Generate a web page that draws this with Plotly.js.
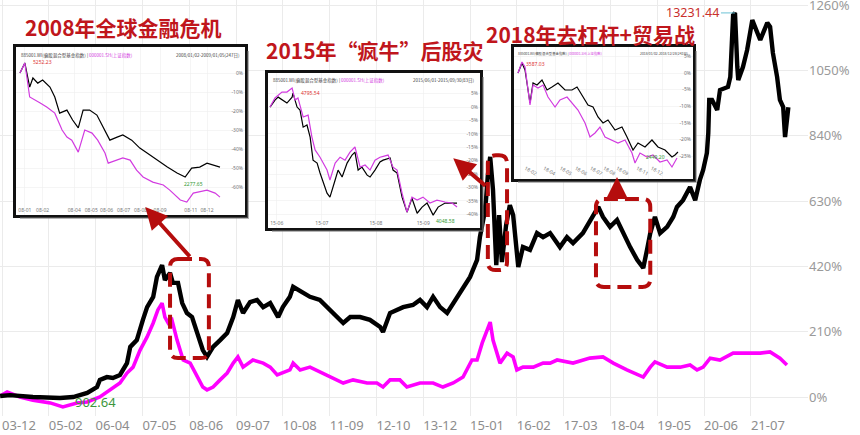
<!DOCTYPE html>
<html><head><meta charset="utf-8">
<script src="https://cdn.plot.ly/plotly-3.0.1.min.js"></script>
<style>html,body{margin:0;padding:0;background:#fff}#c{width:860px;height:435px}</style>
</head><body><div id="c"></div>
<script>
// ---------- main chart data (x = period index between tick labels, y = % change) ----------
const xTickLabels = ['03-12','05-02','06-04','07-05','08-06','09-07','10-08','11-09','12-10','13-12','15-01','16-02','17-03','18-04','19-05','20-06','21-07'];
const yTickVals = [0,210,420,630,840,1050,1260];

// 偏股混合型基金指数 (black)
const fundX = [-0.04,0.17,0.66,1.24,1.52,1.82,2.03,2.09,2.24,2.37,2.52,2.67,2.74,2.88,3.01,3.10,3.23,3.31,3.42,3.48,3.59,3.65,3.76,3.85,3.95,4.06,4.17,4.29,4.38,4.51,4.66,4.81,4.94,5.04,5.15,5.30,5.45,5.58,5.73,5.90,6.00,6.15,6.22,6.43,6.58,6.79,7.01,7.29,7.44,7.65,7.86,8.08,8.14,8.29,8.57,8.78,8.93,9.08,9.21,9.36,9.51,9.64,9.83,10.00,10.15,10.21,10.30,10.34,10.38,10.43,10.49,10.56,10.62,10.68,10.77,10.85,10.92,11.03,11.13,11.28,11.43,11.56,11.71,11.92,12.07,12.20,12.41,12.63,12.74,12.84,12.99,13.14,13.27,13.42,13.57,13.70,13.78,13.85,13.95,14.06,14.21,14.34,14.42,14.55,14.70,14.81,14.91,14.98,15.06,15.09,15.11,15.17,15.28,15.34,15.51,15.56,15.62,15.66,15.71,15.73,15.83,15.92,16.03,16.09,16.20,16.35,16.41,16.47,16.56,16.62,16.69,16.73,16.80];
const fundY = [3,6,0,-3,0,13,32,55,64,61,71,109,161,183,248,289,322,386,424,376,399,367,367,302,270,257,206,151,129,161,183,206,257,312,270,305,312,289,302,257,289,322,354,334,322,312,280,238,257,257,248,225,209,270,289,296,312,289,322,289,270,302,344,386,441,514,585,633,714,772,666,424,585,434,553,617,585,418,482,473,527,514,527,482,514,495,527,579,611,579,547,569,527,482,441,415,473,527,579,527,547,579,611,633,675,633,698,730,785,849,955,955,923,987,997,1029,1228,1235,1061,1019,1061,1116,1212,1190,1148,1203,1190,1106,1029,955,932,836,932];

// 上证指数 (magenta)
const shX = [-0.04,0.11,0.38,0.66,1.03,1.30,1.60,1.82,2.09,2.31,2.52,2.67,2.80,2.95,3.10,3.23,3.33,3.42,3.48,3.55,3.63,3.74,3.87,4.02,4.17,4.29,4.38,4.51,4.66,4.81,4.94,5.04,5.15,5.36,5.58,5.73,5.88,6.00,6.15,6.22,6.37,6.58,6.86,7.16,7.29,7.50,7.80,8.01,8.14,8.29,8.50,8.65,8.93,9.21,9.42,9.64,9.85,10.04,10.15,10.26,10.36,10.43,10.49,10.64,10.79,10.92,11.00,11.13,11.35,11.56,11.71,11.86,12.20,12.56,12.84,13.06,13.35,13.70,13.85,13.95,14.21,14.49,14.70,14.85,14.98,15.13,15.34,15.62,15.92,16.20,16.41,16.62,16.77];
const shY = [3,16,0,-10,-19,-32,-19,-16,0,23,45,77,96,151,193,238,280,302,257,238,248,183,119,109,64,32,23,32,55,77,109,129,96,119,109,96,71,77,87,109,87,96,77,55,45,55,45,45,32,55,55,32,45,45,32,45,64,119,119,174,215,241,183,109,141,129,87,96,96,109,109,119,109,125,129,109,87,64,96,113,96,96,103,87,96,125,119,141,141,141,145,125,103];

// ---------- inset 1: 2008 (day index, % change) ----------
const in1Labels = ['08-01','08-02','08-04','08-05','08-06','08-07','08-08','08-09','08-11','08-12','09-01'];
const in1LabelDays = [6,28,67,88,107,128,149,173,211,231,262];
const in1Pct = [0,-10,-20,-30,-40,-50,-60];
const in1FundX = [0,6,12,16,22,28,37,43,49,58,65,72,78,86,95,103,111,120,127,138,148,157,169,182,194,204,212,222,231,238,247];
const in1FundY = [0,5.3,-7.4,-2.6,-5.3,-3.7,-7.4,-12.6,-21.1,-19.5,-24.7,-28.9,-19.5,-19.5,-22.1,-28.4,-35.3,-33.7,-32.6,-35.3,-39.5,-42.1,-45.8,-49.5,-52.6,-54.7,-50.0,-49.5,-47.4,-48.4,-49.5];
const in1ShX = [0,6,12,19,25,33,43,52,58,64,72,80,89,96,105,109,120,127,136,144,152,164,177,185,198,206,214,222,231,241,247];
const in1ShY = [0,5.3,-12.6,-14.2,-15.8,-17.9,-21.1,-30.0,-33.7,-35.3,-41.6,-30.0,-31.6,-35.3,-42.1,-47.4,-45.8,-44.7,-45.8,-51.1,-54.7,-57.4,-58.9,-61.6,-66.8,-67.9,-63.2,-62.6,-61.6,-63.2,-65.3];

// ---------- inset 2: 2015 ----------
const in2Labels = ['15-06','15-07','15-08','15-09'];
const in2LabelDays = [3,23,47,68];
const in2Pct = [5,0,-5,-10,-15,-20,-25,-30,-35,-40];
const in2FundX = [0,2.2,3.6,5.8,7.5,9.8,10.2,12.0,13.3,14.7,16.4,17.8,19.1,20.9,22.2,25.3,26.6,28.9,30.2,32.0,34.2,36.4,37.7,39.1,40.8,43.1,44.4,46.6,48.8,50.2,53.3,54.6,56.4,58.6,60.8,63.0,65.3,67.5,69.7,72.4,74.6,77.7,80.8,83.0];
const in2FundY = [0,2.6,3.7,2.6,1.5,3.7,5.2,0,-1.1,-7.5,-6.7,-11.2,-19.8,-20.9,-24.6,-32.1,-33.6,-27.2,-23.5,-26.1,-20.9,-17.9,-16.8,-23.5,-22.4,-25.4,-26.1,-23.5,-20.5,-19.8,-19.0,-23.5,-24.6,-33.6,-39.2,-34.0,-39.6,-37.3,-35.8,-40.3,-37.3,-35.8,-35.8,-35.8];
const in2ShX = [0,2.2,5.3,7.5,9.8,11.1,12.4,14.7,16.9,18.6,20.0,22.2,25.3,26.6,28.9,31.1,33.3,35.5,37.7,40.0,42.2,44.4,46.6,48.8,52.4,54.6,56.4,58.6,60.8,63.0,65.3,67.9,71.0,74.1,77.7,80.8,83.0];
const in2ShY = [0,3.4,5.6,5.6,7.1,2.6,3.4,-3.7,-3.0,-11.2,-16.0,-18.7,-23.5,-27.2,-20.9,-18.7,-19.8,-16.8,-14.9,-22.4,-21.6,-23.5,-19.8,-18.7,-17.9,-22.4,-23.5,-32.1,-39.2,-33.6,-34.7,-33.6,-35.8,-34.7,-35.4,-35.8,-37.3];

// ---------- inset 3: 2018 ----------
const in3Labels = ['18-01','18-02','18-04','18-05','18-06','18-07','18-08','18-09','18-11','18-12'];
const in3LabelDays = [3,27,54,78,100,122,141,160,189,210];
const in3Pct = [5,0,-5,-10,-15,-20,-25];
const in3FundX = [0,5.8,10.2,14.5,17.4,21.8,27.6,34.8,42.1,49.3,58.0,68.2,78.3,85.6,94.3,101.5,108.8,116.0,123.3,130.5,140.7,150.8,158.1,166.8,174.0,184.2,194.3,203.0,213.2,223.3,227.7,232.0];
const in3FundY = [0,3.0,0.9,-5.1,-9.0,-3.0,-3.6,-2.1,-5.1,-4.2,-3.0,-5.1,-5.1,-4.2,-7.2,-9.6,-10.2,-13.2,-15.0,-14.1,-17.1,-16.2,-19.2,-23.1,-21.0,-22.2,-20.1,-22.2,-23.1,-25.2,-24.6,-23.7];
const in3ShX = [0,5.8,10.2,14.5,17.4,21.8,29.0,36.3,43.5,53.7,60.9,71.1,78.3,87.0,97.2,104.4,111.7,118.9,126.2,136.3,145.0,155.2,165.3,169.7,176.9,187.1,195.8,205.9,216.1,223.3,230.6];
const in3ShY = [0,3.3,1.8,-6.0,-9.6,-3.6,-4.5,-3.6,-7.2,-10.2,-8.1,-7.2,-9.0,-11.1,-15.0,-19.2,-18.0,-16.2,-19.2,-20.1,-21.0,-20.1,-24.0,-27.0,-24.0,-25.2,-24.6,-26.7,-26.1,-28.2,-25.5];

// ---------- drawing ----------
const RED = '#c0161c';
const ARROW = '#b50d0d';
const MAG = '#ff00ff';
const IMAG = '#d23be0';
const PW = 808, PH = 416;               // main plot area in px
const px = v => v / PW, py = v => (PH - v) / PH;

const traces = [
  {x: shX, y: shY, type:'scatter', mode:'lines', line:{color:MAG, width:3.6}, xaxis:'x', yaxis:'y', hoverinfo:'skip'},
  {x: fundX, y: fundY, type:'scatter', mode:'lines', line:{color:'#000', width:4.4}, xaxis:'x', yaxis:'y', hoverinfo:'skip'},
  {x: in1FundX, y: in1FundY, type:'scatter', mode:'lines', line:{color:'#000', width:1.2}, xaxis:'x2', yaxis:'y2'},
  {x: in1ShX, y: in1ShY, type:'scatter', mode:'lines', line:{color:IMAG, width:1.2}, xaxis:'x2', yaxis:'y2'},
  {x: in2FundX, y: in2FundY, type:'scatter', mode:'lines', line:{color:'#000', width:1.2}, xaxis:'x3', yaxis:'y3'},
  {x: in2ShX, y: in2ShY, type:'scatter', mode:'lines', line:{color:IMAG, width:1.2}, xaxis:'x3', yaxis:'y3'},
  {x: in3FundX, y: in3FundY, type:'scatter', mode:'lines', line:{color:'#000', width:1.2}, xaxis:'x4', yaxis:'y4'},
  {x: in3ShX, y: in3ShY, type:'scatter', mode:'lines', line:{color:IMAG, width:1.2}, xaxis:'x4', yaxis:'y4'}
];

function insetAxes(frame, xr, yr, labelDays, labels, pcts) {
  const base = {showline:true, mirror:true, linewidth:3, linecolor:'#111', zeroline:false, ticks:'',
                showgrid:true, gridcolor:'#efefef', gridwidth:0.6, fixedrange:true,
                tickfont:{size:5, color:'#777', family:'Noto Sans'}};
  return [
    Object.assign({}, base, {domain:[px(frame[0]), px(frame[2])], range:xr, tickvals:labelDays, ticktext:labels, ticklabelposition:'inside'}),
    Object.assign({}, base, {domain:[py(frame[3]), py(frame[1])], range:yr, side:'right', tickvals:pcts, ticktext:pcts.map(p=>p+'%'), ticklabelposition:'inside'})
  ];
}
const f1 = [16,47,245,215], f2 = [268,73,480,228], f3 = [514,47,693,179];
const [xa2, ya2] = insetAxes(f1, [-4.9, 277.9], [-74.7, 13.7], in1LabelDays, in1Labels, in1Pct);
const [xa3, ya3] = insetAxes(f2, [-0.9, 93.2], [-45.1, 12.7], in2LabelDays, in2Labels, in2Pct);
const [xa4, ya4] = insetAxes(f3, [-5.8, 253.8], [-31.8, 7.8], in3LabelDays, in3Labels, in3Pct);
xa2.anchor='y2'; ya2.anchor='x2'; xa3.anchor='y3'; ya3.anchor='x3'; xa4.anchor='y4'; ya4.anchor='x4';

// rounded dashed boxes in main data coordinates
function roundBox(x0, x1, y0, y1) {
  const rx = 0.17, ry = 26;
  return `M ${x0+rx},${y1} L ${x1-rx},${y1} Q ${x1},${y1} ${x1},${y1-ry} L ${x1},${y0+ry} Q ${x1},${y0} ${x1-rx},${y0} ` +
         `L ${x0+rx},${y0} Q ${x0},${y0} ${x0},${y0+ry} L ${x0},${y1-ry} Q ${x0},${y1} ${x0+rx},${y1} Z`;
}
function shadow(f) {
  return {type:'path', xref:'paper', yref:'paper', layer:'above',
    path:`M ${px(f[0]+4)},${py(f[3]+3)} L ${px(f[2]+3)},${py(f[3]+3)} L ${px(f[2]+3)},${py(f[1]+4)}`,
    line:{color:'rgba(120,120,120,0.55)', width:2}};
}
const boxLine = {color:ARROW, width:4, dash:'14px,7px'};
const shapes = [
  {type:'path', xref:'x', yref:'y', path:roundBox(3.59, 4.42, 125, 444), line:boxLine, layer:'above'},
  {type:'path', xref:'x', yref:'y', path:roundBox(10.38, 10.79, 408, 777), line:boxLine, layer:'above'},
  {type:'path', xref:'x', yref:'y', path:roundBox(12.69, 13.85, 354, 637), line:boxLine, layer:'above'},
  shadow(f1), shadow(f2), shadow(f3)
];

function header(ax, right, fs) {
  const yr = (ax==='x2'?'y2':ax==='x3'?'y3':'y4') + ' domain';
  return [
    {xref:ax+' domain', yref:yr, x:0.012, y:0.985, xanchor:'left', yanchor:'top', showarrow:false,
     text:'885001.WI(偏股混合型基金指数) | <span style="color:'+IMAG+'">000001.SH(上证指数)</span>', font:{size:fs, color:'#444', family:'Noto Sans CJK SC'}},
    {xref:ax+' domain', yref:yr, x:0.985, y:0.985, xanchor:'right', yanchor:'top', showarrow:false,
     text:right, font:{size:fs, color:'#444', family:'Noto Sans CJK SC'}}
  ];
}
const titleFont = {size:21, color:RED, family:'Noto Sans CJK SC', weight:'bold'};
const annotations = [
  {xref:'paper', yref:'paper', x:px(123), y:py(27), xanchor:'center', yanchor:'middle', text:'2008年全球金融危机', showarrow:false, font:titleFont},
  {xref:'paper', yref:'paper', x:px(375), y:py(50), xanchor:'center', yanchor:'middle', text:'2015年“疯牛”后股灾', showarrow:false, font:titleFont},
  {xref:'paper', yref:'paper', x:px(590), y:py(34), xanchor:'center', yanchor:'middle', text:'2018年去杠杆+贸易战', showarrow:false, font:titleFont},
  // arrows from highlighted regions to insets
  {xref:'x', yref:'y', axref:'x', ayref:'y', x:3.06, y:611, ax:4.04, ay:447, text:'', showarrow:true, arrowhead:2, arrowsize:1.1, arrowwidth:4, arrowcolor:ARROW},
  {xref:'x', yref:'y', axref:'x', ayref:'y', x:9.64, y:768, ax:10.36, ay:675, text:'', showarrow:true, arrowhead:2, arrowsize:1.1, arrowwidth:4, arrowcolor:ARROW},
  {xref:'x', yref:'y', axref:'x', ayref:'y', x:13.14, y:707, ax:13.14, ay:637, text:'', showarrow:true, arrowhead:2, arrowsize:1.1, arrowwidth:4, arrowcolor:ARROW},
  // main extremes
  {xref:'x', yref:'y', x:15.66, y:1235, ax:-42, ay:0, text:'13231.44', showarrow:true, arrowhead:0, arrowwidth:1, arrowcolor:'#6cc3d5', font:{size:12.5, color:'#c9302c', family:'Noto Sans'}},
  {xref:'x', yref:'y', x:2.0, y:-16, text:'902.64', showarrow:false, font:{size:13, color:'#3c963c', family:'Noto Sans'}},
  // inset extremes
  {xref:'x2', yref:'y2', x:14, y:5.8, text:'5252.23', xanchor:'left', showarrow:false, font:{size:5, color:'#d33', family:'Noto Sans'}},
  {xref:'x2', yref:'y2', x:214, y:-56, text:'2277.65', yanchor:'top', showarrow:false, font:{size:5, color:'#393', family:'Noto Sans'}},
  {xref:'x3', yref:'y3', x:13, y:5.2, text:'4795.54', xanchor:'left', showarrow:false, font:{size:5, color:'#d33', family:'Noto Sans'}},
  {xref:'x3', yref:'y3', x:78, y:-40.5, text:'4048.58', yanchor:'top', showarrow:false, font:{size:5, color:'#393', family:'Noto Sans'}},
  {xref:'x4', yref:'y4', x:9, y:2.6, text:'3587.03', xanchor:'left', showarrow:false, font:{size:5, color:'#d33', family:'Noto Sans'}},
  {xref:'x4', yref:'y4', x:200, y:-25.2, text:'2449.20', showarrow:false, font:{size:5, color:'#393', family:'Noto Sans'}}
].concat(header('x2','2008/01/02-2009/01/05(247日)', 4.5), header('x3','2015/06/01-2015/09/30(83日)', 4.5), header('x4','2018/01/02-2018/12/28(243日)', 3.4));

const layout = {
  width:860, height:435,
  margin:{l:0, r:52, t:0, b:19},
  paper_bgcolor:'#fff', plot_bgcolor:'#fff',
  showlegend:false,
  xaxis:{domain:[0,1], range:[-0.043, 17.22], tickvals:xTickLabels.map((_, i) => i), ticktext:xTickLabels,
         ticklabelposition:'outside right', ticks:'', showgrid:true, gridcolor:'#ebebeb', gridwidth:1, zeroline:false, showline:false,
         tickfont:{size:13, color:'#8d8d8d', family:'Noto Sans'}, fixedrange:true, ticklabeloverflow:'allow'},
  yaxis:{domain:[0,1], range:[-61.1, 1276.5], side:'right', tickvals:yTickVals, ticktext:yTickVals.map(v => v + '%'),
         ticks:'', showgrid:true, gridcolor:'#ebebeb', gridwidth:1, zeroline:false, showline:false,
         tickfont:{size:13, color:'#9a9a9a', family:'Noto Sans'}, fixedrange:true, ticklabeloverflow:'allow'},
  xaxis2:xa2, yaxis2:ya2, xaxis3:xa3, yaxis3:ya3, xaxis4:xa4, yaxis4:ya4,
  shapes:shapes, annotations:annotations
};
Plotly.newPlot('c', traces, layout, {displayModeBar:false, staticPlot:true});
</script></body></html>
